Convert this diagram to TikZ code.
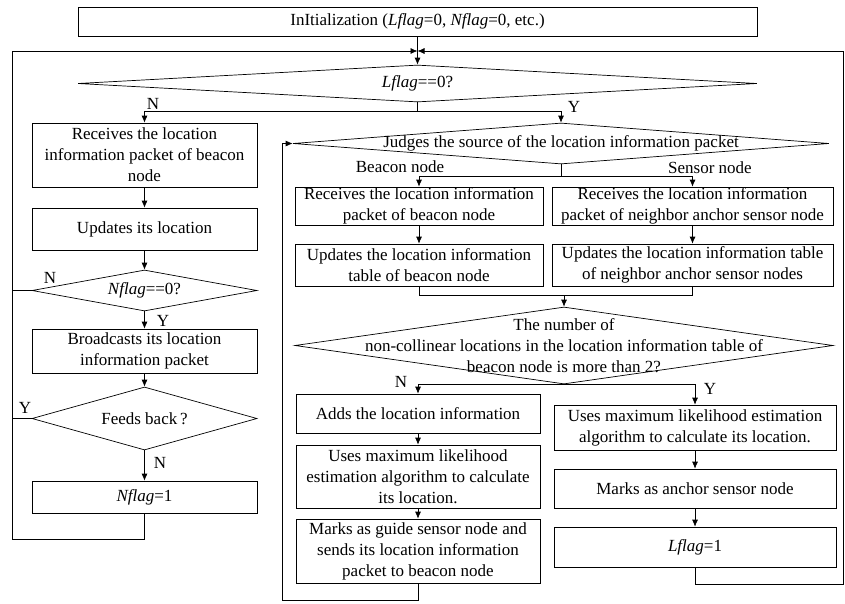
\documentclass[tikz,border=0pt]{standalone}
\usepackage{fontspec}
\setmainfont{Liberation Serif}
\usetikzlibrary{shapes.geometric,arrows.meta}

\begin{document}
\begin{tikzpicture}[x=1pt,y=-1pt,line width=0.7pt,
  font=\fontsize{17}{21}\selectfont,
  >={Latex[length=7pt,width=6pt]},
  box/.style={draw,rectangle,inner sep=0pt,align=center},
  decision/.style={draw,diamond,inner sep=0pt},
  yn/.style={inner sep=0pt}]
  \useasboundingbox (0,0) rectangle (845,603);

  % start and first test
  \node[box,minimum width=679,minimum height=29] (init) at (417.5,21.5)
    {InItialization (\textit{Lflag}=0, \textit{Nflag}=0, etc.)};
  \node[decision,minimum width=679,minimum height=37,
    label={center:{\textit{Lflag}==0?}}] (lchk) at (417.5,83.5) {};
  \coordinate (jtop) at (417.5,51);
  \coordinate (lft) at (12,51);
  \coordinate (rgt) at (843,51);

  % left column (beacon messages)
  \node[box,minimum width=225,minimum height=64] (rcv) at (144.5,155)
    {Receives the location\\information packet of beacon\\node};
  \node[box,minimum width=225,minimum height=42] (upd) at (144.5,229)
    {Updates its location};
  \node[decision,minimum width=225,minimum height=41,
    label={center:{\textit{Nflag}==0?}}] (nchk) at (144.5,290.5) {};
  \node[box,minimum width=225,minimum height=44] (bcast) at (144.5,351)
    {Broadcasts its location\\information packet};
  \node[decision,minimum width=225,minimum height=63,
    label={center:{Feeds back\,?}}] (fb) at (144.5,418.5) {};
  \node[box,minimum width=225,minimum height=32] (nset) at (144.5,497)
    {\textit{Nflag}=1};

  % right part, source of the packet
  \node[decision,minimum width=536,minimum height=41,
    label={center:{Judges the source of the location information packet}}]
    (judge) at (561,143.5) {};
  \node[box,minimum width=248,minimum height=38] (brcv) at (419,206)
    {Receives the location information\\packet of beacon node};
  \node[box,minimum width=248,minimum height=42] (bupd) at (419,265)
    {Updates the location information\\table of beacon node};
  \node[box,minimum width=281,minimum height=38] (srcv) at (692.5,206)
    {Receives the location information\\packet of neighbor anchor sensor node};
  \node[box,minimum width=281,minimum height=42] (supd) at (692.5,265)
    {Updates the location information table\\of neighbor anchor sensor nodes};

  % count test
  \node[decision,minimum width=538,minimum height=77,
    label={[align=center]center:{The number of\\non-collinear locations in the location information table of\\beacon node is more than 2?}}]
    (cnt) at (564,345.5) {};
  \node[box,minimum width=244,minimum height=39] (add) at (418,413.5)
    {Adds the location information};
  \node[box,minimum width=244,minimum height=63] (mle1) at (418,476.5)
    {Uses maximum likelihood\\estimation algorithm to calculate\\its location.};
  \node[box,minimum width=244,minimum height=64] (guide) at (418,551)
    {Marks as guide sensor node and\\sends its location information\\packet to beacon node};
  \node[box,minimum width=282,minimum height=45] (mle2) at (695,427.5)
    {Uses maximum likelihood estimation\\algorithm to calculate its location.};
  \node[box,minimum width=282,minimum height=39] (anch) at (695,488.5)
    {Marks as anchor sensor node};
  \node[box,minimum width=282,minimum height=40] (lset) at (695,547)
    {\textit{Lflag}=1};
  \coordinate (mlp) at (282,143.5);

  % branch labels
  \node[yn] (n1) at (153,104) {N};
  \node[yn] (y1) at (574,107) {Y};
  \node[yn] (n2) at (50,278) {N};
  \node[yn] (y2) at (163,321) {Y};
  \node[yn] (y3) at (25,408) {Y};
  \node[yn] (n3) at (160,463) {N};
  \node[yn] (bn) at (400,167) {Beacon node};
  \node[yn] (sn) at (710,168) {Sensor node};
  \node[yn] (n4) at (401,382) {N};
  \node[yn] (y4) at (710,389) {Y};

  % arrows
  \draw[->] (init) -- (lchk);
  \draw (lchk.south) -- ++(0,9) coordinate (lj);
  \draw[->] (lj) -| (rcv);
  \draw[->] (lj) -| (judge);

  \draw[->] (rcv) -- (upd);
  \draw[->] (upd) -- (nchk);
  \draw[->] (nchk) -- (bcast);
  \draw[->] (bcast) -- (fb);
  \draw[->] (fb) -- (nset);
  \draw (nchk.west) -- (nchk.west -| lft);
  \draw (fb.west) -- (fb.west -| lft);
  \draw[->] (nset.south) -- ++(0,26) -| (lft) -- (jtop);

  \draw (judge.south) -- ++(0,12) coordinate (jj);
  \draw[->] (jj) -| (brcv);
  \draw[->] (jj) -| (srcv);
  \draw[->] (brcv) -- (bupd);
  \draw[->] (srcv) -- (supd);
  \draw (bupd.south) -- ++(0,9) coordinate (mj) -| (supd.south);
  \draw[->] (mj -| cnt.north) -- (cnt);

  \draw[->] (cnt.south) -| (add);
  \draw[->] (cnt.south) -| (mle2);
  \draw[->] (add) -- (mle1);
  \draw[->] (mle1) -- (guide);
  \draw[->] (mle2) -- (anch);
  \draw[->] (anch) -- (lset);
  \draw[->] (guide.south) -- ++(0,17) -| (mlp) -- (judge.west);
  \draw[->] (lset.south) -- ++(0,17) -| (rgt) -- (jtop);
\end{tikzpicture}
\end{document}
